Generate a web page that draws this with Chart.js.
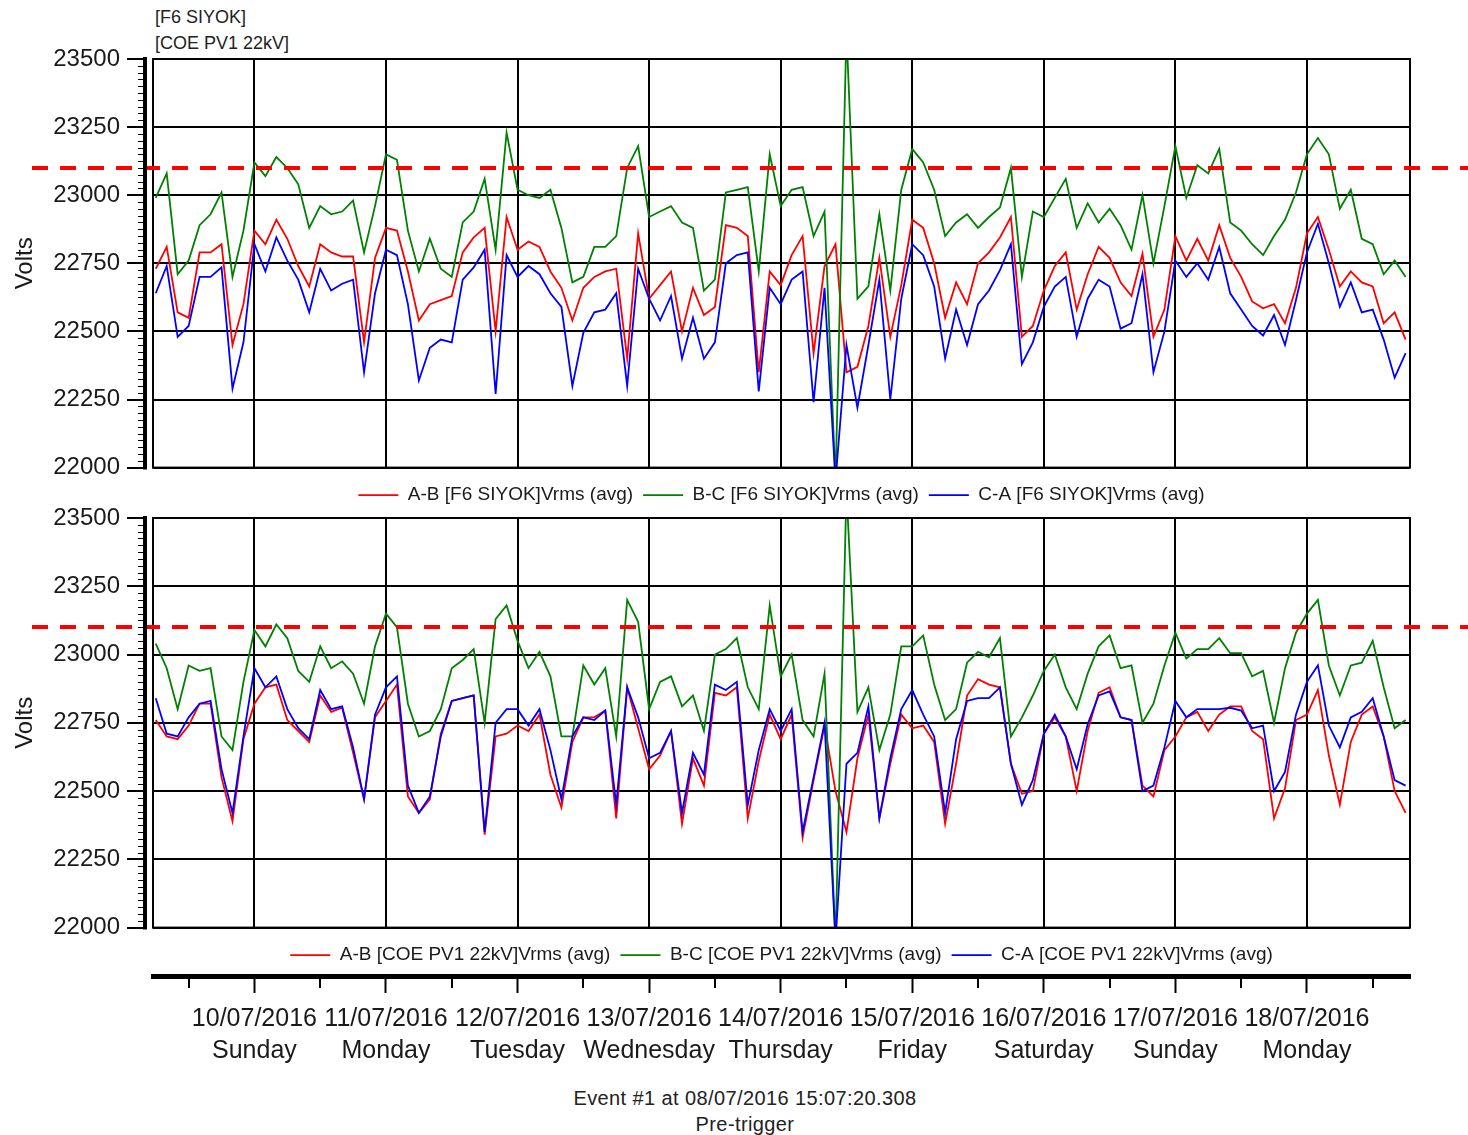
<!DOCTYPE html>
<html>
<head>
<meta charset="utf-8">
<title>Vrms trend - F6 SIYOK / COE PV1 22kV</title>
<script src="https://cdn.jsdelivr.net/npm/chart.js@4.4.1/dist/chart.umd.min.js"></script>
<style>
  body { margin: 0; background: #fff; }
  #page { position: relative; width: 1468px; height: 1135px; overflow: hidden;
          font-family: Arial, "Liberation Sans", sans-serif; color: #222; }
  canvas { position: absolute; left: 0; }
  .site { position: absolute; left: 155px; font-size: 18px; line-height: 20px; white-space: nowrap; }
  .footer { position: absolute; left: 495px; width: 500px; text-align: center;
            font-size: 20px; line-height: 22px; letter-spacing: 0.4px; }
</style>
</head>
<body>
<div id="page">
  <div class="site" style="top:7px">[F6 SIYOK]</div>
  <div class="site" style="top:33px">[COE PV1 22kV]</div>
  <canvas id="chartF6" width="1468" height="515" style="top:0"></canvas>
  <canvas id="chartCOE" width="1468" height="505" style="top:470px"></canvas>
  <canvas id="timeAxis" width="1468" height="130" style="top:940px"></canvas>
  <div class="footer" style="top:1087px">Event #1 at 08/07/2016 15:07:20.308</div>
  <div class="footer" style="top:1113px">Pre-trigger</div>
</div>
<script>
// hours counted from 10/07/2016 00:00, one averaged reading every 2 hours
const firstHour = -18;
const stepHours = 2;
const axisMin = -18.5;
const axisMax = 210.8;

const dayHours = [0, 24, 48, 72, 96, 120, 144, 168, 192];
const halfDayHours = [-12, 12, 36, 60, 84, 108, 132, 156, 180, 204];
const dateLabels = ['10/07/2016', '11/07/2016', '12/07/2016', '13/07/2016', '14/07/2016',
                    '15/07/2016', '16/07/2016', '17/07/2016', '18/07/2016'];
const dayNames = ['Sunday', 'Monday', 'Tuesday', 'Wednesday', 'Thursday',
                  'Friday', 'Saturday', 'Sunday', 'Monday'];
const voltTicks = [22000, 22250, 22500, 22750, 23000, 23250, 23500];
const limitVolts = 23100;

// F6 SIYOK
const f6AB = [
  22730, 22810, 22570, 22550, 22790, 22790, 22820, 22450, 22600, 22870,
  22820, 22910, 22840, 22740, 22665, 22820, 22790, 22775, 22775, 22460,
  22770, 22880, 22870, 22720, 22540, 22600, 22615, 22630, 22790, 22845,
  22880, 22500, 22920, 22800, 22830, 22810, 22720, 22660,
  22540, 22660, 22700, 22720, 22730, 22400, 22860, 22620, 22670, 22720,
  22500, 22660, 22560, 22590, 22890, 22880, 22850, 22350, 22720, 22670,
  22780, 22850, 22420, 22740, 22820, 22350, 22370, 22520, 22770, 22480,
  22670, 22910, 22880, 22750, 22550, 22680, 22600, 22750, 22790,
  22845, 22920, 22480, 22520, 22650, 22740, 22790, 22580, 22710, 22810,
  22770, 22680, 22630, 22785, 22480, 22580, 22850, 22760, 22840, 22760,
  22890, 22770, 22700, 22610, 22585, 22600, 22530, 22660, 22860, 22920,
  22800, 22665, 22720, 22680, 22665, 22530, 22570, 22470
];
const f6BC = [
  22990, 23080, 22710, 22760, 22890, 22930, 23010, 22700, 22870, 23120,
  23070, 23140, 23100, 23040, 22880, 22960, 22930, 22940, 22980, 22790,
  22960, 23150, 23130, 22870, 22720, 22840, 22730, 22700, 22900, 22940,
  23060, 22800, 23230, 23020, 23000, 22990, 23020, 22880,
  22680, 22700, 22810, 22810, 22850, 23100, 23180, 22920, 22940, 22960,
  22900, 22880, 22650, 22690, 23010, 23020, 23030, 22720, 23150, 22960,
  23020, 23030, 22850, 22940, 21950, 23600, 22620, 22665, 22930, 22650,
  23020, 23170, 23120, 23020, 22850, 22900, 22930, 22880, 22920,
  22955, 23100, 22700, 22940, 22920, 22990, 23060, 22880, 22970, 22900,
  22950, 22890, 22800, 23000, 22750, 22960, 23180, 22990, 23110, 23080,
  23170, 22900, 22870, 22820, 22780, 22850, 22910, 23010, 23150, 23210,
  23150, 22950, 23020, 22840, 22820, 22710, 22760, 22700
];
const f6CA = [
  22640, 22740, 22480, 22520, 22700, 22700, 22735, 22290, 22460, 22820,
  22720, 22845, 22760, 22690, 22570, 22730, 22650, 22675, 22690, 22350,
  22640, 22800, 22780, 22600, 22320, 22440, 22470, 22460, 22690, 22735,
  22800, 22270, 22780, 22700, 22740, 22710, 22640, 22590,
  22300, 22495, 22570, 22580, 22640, 22300, 22730, 22620, 22540, 22630,
  22400, 22550, 22400, 22460, 22750, 22780, 22790, 22280, 22660, 22600,
  22690, 22720, 22240, 22660, 21950, 22450, 22220, 22450, 22690, 22250,
  22620, 22820, 22780, 22665, 22400, 22580, 22450, 22600, 22650,
  22725, 22820, 22380, 22460, 22590, 22665, 22700, 22480, 22620, 22690,
  22665, 22510, 22530, 22710, 22350, 22500, 22760, 22700, 22750, 22690,
  22810, 22640, 22580, 22520, 22485, 22560, 22450, 22615, 22790, 22895,
  22750, 22590, 22680, 22570, 22580, 22470, 22330, 22420
];

// COE PV1 22kV
const coeAB = [
  22760, 22700, 22690, 22740, 22820, 22820, 22550, 22390, 22690, 22820,
  22880, 22890, 22760, 22720, 22680, 22850, 22790, 22805, 22640, 22470,
  22770, 22830, 22890, 22480, 22420, 22470, 22710, 22830, 22840, 22850,
  22340, 22700, 22710, 22740, 22720, 22780, 22560, 22440,
  22680, 22770, 22770, 22795, 22400, 22880, 22730, 22580, 22630, 22720,
  22380, 22620, 22520, 22860, 22850, 22880, 22400, 22610, 22780, 22690,
  22780, 22330, 22540, 22740, 22500, 22350, 22620, 22780, 22400, 22600,
  22780, 22730, 22740, 22680, 22380, 22600, 22850, 22910, 22890,
  22880, 22600, 22490, 22500, 22710, 22770, 22700, 22500, 22720, 22860,
  22880, 22770, 22760, 22520, 22480, 22650, 22700, 22770, 22790, 22720,
  22780, 22810, 22810, 22720, 22690, 22400, 22510, 22760, 22780, 22870,
  22630, 22450, 22680, 22780, 22810, 22700, 22500, 22420
];
const coeBC = [
  23040, 22950, 22800, 22960, 22940, 22950, 22700, 22650, 22900, 23090,
  23030, 23110, 23060, 22940, 22900, 23030, 22950, 22975, 22930, 22820,
  23030, 23150, 23100, 22820, 22700, 22720, 22800, 22950, 22980, 23020,
  22750, 23130, 23180, 23050, 22950, 23010, 22920, 22700,
  22700, 22960, 22890, 22950, 22700, 23200, 23120, 22800, 22900, 22920,
  22810, 22850, 22720, 23000, 23020, 23060, 22880, 22800, 23180, 22920,
  23000, 22760, 22700, 22930, 21950, 23600, 22790, 22880, 22650, 22780,
  23030, 23030, 23070, 22890, 22760, 22800, 22970, 23010, 22990,
  23060, 22700, 22770, 22850, 22940, 23000, 22880, 22800, 22930, 23030,
  23070, 22950, 22960, 22750, 22820, 22960, 23080, 22985, 23020, 23020,
  23060, 23005, 23005, 22920, 22940, 22750, 22950, 23080, 23150, 23200,
  22960, 22850, 22960, 22970, 23050, 22880, 22730, 22760
];
const coeCA = [
  22840, 22710, 22700, 22770, 22820, 22830, 22580, 22420, 22700, 22950,
  22880, 22920, 22800, 22730, 22690, 22870, 22800, 22810, 22660, 22470,
  22780, 22880, 22920, 22520, 22420, 22480, 22700, 22830, 22840, 22850,
  22350, 22750, 22800, 22800, 22740, 22800, 22650, 22470,
  22700, 22770, 22760, 22795, 22450, 22880, 22770, 22620, 22640, 22720,
  22420, 22640, 22560, 22890, 22870, 22900, 22450, 22650, 22800, 22720,
  22800, 22350, 22550, 22750, 21950, 22600, 22640, 22810, 22400, 22620,
  22800, 22870, 22780, 22700, 22420, 22690, 22830, 22840, 22840,
  22880, 22600, 22450, 22540, 22710, 22780, 22700, 22580, 22745, 22850,
  22865, 22770, 22760, 22500, 22520, 22660, 22830, 22770, 22800, 22800,
  22800, 22805, 22795, 22730, 22740, 22500, 22570, 22780, 22900, 22960,
  22740, 22660, 22770, 22790, 22840, 22700, 22540, 22520
];

const textColor = '#1a1a1a';
Chart.defaults.font.family = 'Arial, "Liberation Sans", sans-serif';
Chart.defaults.color = textColor;

function toPoints(values) {
  return values.map((v, i) => ({ x: firstHour + i * stepHours, y: v }));
}

function phaseSets(site, ab, bc, ca) {
  const common = { borderWidth: 1.8, pointRadius: 0, tension: 0 };
  return [
    { ...common, label: 'A-B [' + site + ']Vrms (avg)', data: toPoints(ab),
      borderColor: '#ff0000', backgroundColor: '#ff0000', order: 2 },
    { ...common, label: 'B-C [' + site + ']Vrms (avg)', data: toPoints(bc),
      borderColor: '#008000', backgroundColor: '#008000', order: 1 },
    { ...common, label: 'C-A [' + site + ']Vrms (avg)', data: toPoints(ca),
      borderColor: '#0000ff', backgroundColor: '#0000ff', order: 0 }
  ];
}

// plot frame, +5% limit line and the heavy left axis with its tick marks
const panelDecor = {
  id: 'panelDecor',
  afterLayout(chart) {
    // legend row sits a little lower under the plot
    chart.legend.top += 8;
    chart.legend.bottom += 8;
  },
  afterDatasetsDraw(chart) {
    const { ctx, chartArea: a, scales: { y } } = chart;
    ctx.save();
    ctx.strokeStyle = '#000';
    ctx.lineWidth = 2;
    ctx.strokeRect(a.left, a.top, a.right - a.left, a.bottom - a.top);

    const yl = Math.round(y.getPixelForValue(limitVolts));
    ctx.strokeStyle = '#ff0000';
    ctx.lineWidth = 4;
    ctx.setLineDash([16, 12]);
    ctx.beginPath();
    ctx.moveTo(32, yl);
    ctx.lineTo(chart.width, yl);
    ctx.stroke();
    ctx.setLineDash([]);

    const ax = a.left - 8;
    ctx.strokeStyle = '#000';
    ctx.lineWidth = 4;
    ctx.beginPath();
    ctx.moveTo(ax, a.top - 2);
    ctx.lineTo(ax, a.bottom + 2);
    ctx.stroke();
    ctx.lineWidth = 1;
    ctx.beginPath();
    for (let v = y.min; v <= y.max; v += 25) {
      const py = Math.round(y.getPixelForValue(v)) + 0.5;
      ctx.moveTo(ax - 7, py);
      ctx.lineTo(ax, py);
    }
    ctx.stroke();
    ctx.lineWidth = 2;
    ctx.beginPath();
    voltTicks.forEach(v => {
      const py = Math.round(y.getPixelForValue(v));
      ctx.moveTo(ax - 18, py);
      ctx.lineTo(ax, py);
    });
    ctx.stroke();
    ctx.restore();
  }
};

function panelOptions(padTop, padBottom) {
  return {
    responsive: false,
    animation: false,
    layout: { padding: { top: padTop, right: 58, bottom: padBottom, left: 0 } },
    plugins: {
      tooltip: { enabled: false },
      legend: {
        position: 'bottom',
        fullSize: false,
        labels: {
          boxWidth: 40, boxHeight: 0, padding: 10, color: textColor, font: { size: 19 },
          sort: (a, b) => a.datasetIndex - b.datasetIndex
        }
      }
    },
    scales: {
      x: {
        type: 'linear', min: axisMin, max: axisMax,
        afterBuildTicks: s => { s.ticks = dayHours.map(v => ({ value: v })); },
        afterFit: s => { s.height = 0; },
        grid: { color: '#000', lineWidth: 2, drawTicks: false },
        border: { display: false },
        ticks: { display: false }
      },
      y: {
        min: 22000, max: 23500,
        afterBuildTicks: s => { s.ticks = voltTicks.map(v => ({ value: v })); },
        afterFit: s => { s.width = 153; },
        grid: { color: '#000', lineWidth: 2, drawTicks: false },
        border: { display: false },
        ticks: { padding: 33, color: textColor, font: { size: 24 }, callback: v => String(v) },
        title: { display: true, text: 'Volts', color: textColor, font: { size: 24 },
                 padding: { top: 11, bottom: 0 } }
      }
    }
  };
}

new Chart(document.getElementById('chartF6'), {
  type: 'line',
  data: { datasets: phaseSets('F6 SIYOK', f6AB, f6BC, f6CA) },
  options: panelOptions(59, 3),
  plugins: [panelDecor]
});

new Chart(document.getElementById('chartCOE'), {
  type: 'line',
  data: { datasets: phaseSets('COE PV1 22kV', coeAB, coeBC, coeCA) },
  options: panelOptions(48, 4),
  plugins: [panelDecor]
});

// shared date axis under both panels
const halfDayTicks = {
  id: 'halfDayTicks',
  afterDraw(chart) {
    const { ctx, chartArea: a, scales: { x } } = chart;
    ctx.save();
    ctx.strokeStyle = '#000';
    ctx.lineWidth = 2;
    ctx.beginPath();
    halfDayHours.forEach(h => {
      const px = Math.round(x.getPixelForValue(h));
      ctx.moveTo(px, a.bottom + 2);
      ctx.lineTo(px, a.bottom + 12);
    });
    ctx.stroke();
    ctx.restore();
  }
};

new Chart(document.getElementById('timeAxis'), {
  type: 'line',
  data: { datasets: [] },
  options: {
    responsive: false,
    animation: false,
    layout: { padding: { top: 30, right: 58, bottom: 0, left: 153 } },
    plugins: { legend: { display: false }, tooltip: { enabled: false } },
    scales: {
      x: {
        type: 'linear', min: axisMin, max: axisMax,
        afterBuildTicks: s => { s.ticks = dayHours.map(v => ({ value: v })); },
        afterFit: s => { s.height = 94; },
        grid: { drawOnChartArea: false, drawTicks: true, tickLength: 17, tickWidth: 2, tickColor: '#000' },
        border: { display: true, width: 5, color: '#000' },
        ticks: {
          autoSkip: false, maxRotation: 0, padding: 10, color: textColor,
          font: { size: 25, lineHeight: 1.28 },
          callback: (v, i) => [dateLabels[i], dayNames[i]]
        }
      },
      y: { display: false }
    }
  },
  plugins: [halfDayTicks]
});
</script>
</body>
</html>
